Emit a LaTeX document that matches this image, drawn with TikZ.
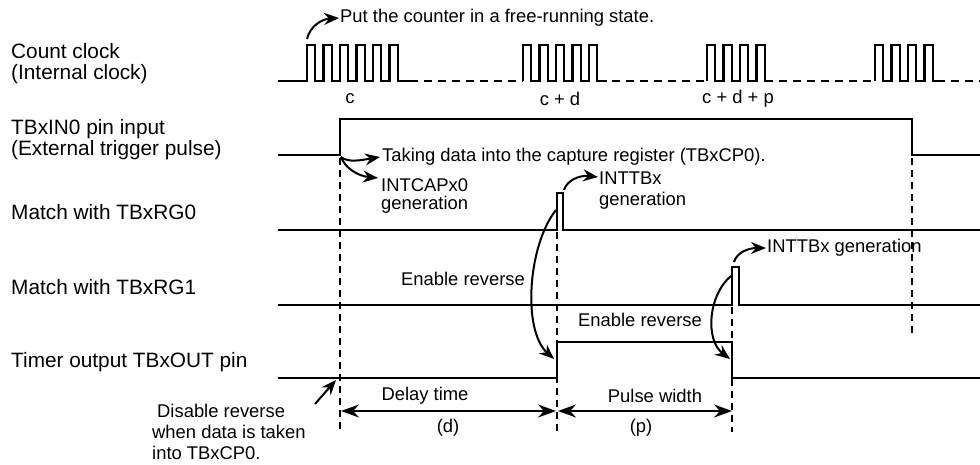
\documentclass[tikz,border=0pt]{standalone}
\usepackage{fontspec}
\setmainfont{Liberation Sans}
\usetikzlibrary{arrows.meta}
\begin{document}
\begin{tikzpicture}[x=1pt,y=-1pt,
  sig/.style={line width=2.6pt, line join=miter},
  clk/.style={line width=2.2pt, line join=miter},
  vdash/.style={line width=2pt, dash pattern=on 7pt off 5pt},
  hdash/.style={line width=2.2pt, dash pattern=on 8pt off 6pt, dash phase=8pt},
  ann/.style={-{Stealth[length=15pt,width=12pt,inset=5pt]}, line width=2pt},
  dim/.style={{Stealth[length=18pt,width=13pt,inset=6pt]}-{Stealth[length=18pt,width=13pt,inset=6pt]}, line width=1.8pt},
  lbl/.style={font=\fontsize{20.8}{21}\selectfont, inner sep=0pt, anchor=west, align=left},
  txt/.style={font=\fontsize{18.4}{19}\selectfont, inner sep=0pt},
]
\useasboundingbox (0,0) rectangle (980,464);

% left labels
\node[lbl] (lclk) at (11,63.5) {Count clock\\(Internal clock)};
\node[lbl] (lin)  at (11,139.5) {TBxIN0 pin input\\(External trigger pulse)};
\node[lbl] (lrg0) at (11,212) {Match with TBxRG0};
\node[lbl] (lrg1) at (11,287) {Match with TBxRG1};
\node[lbl] (lout) at (11,362) {Timer output TBxOUT pin};

% clock
\draw[clk] (278,81) -- (307,81)
  \foreach \i in {1,...,6}{ -- ++(0,-36) -- ++(8.25,0) -- ++(0,36) -- ++(8.25,0)} -- (418,81);
\draw[clk] (523,81)
  \foreach \i in {1,...,5}{ -- ++(0,-36) -- ++(8.25,0) -- ++(0,36) -- ++(8.25,0)} -- (606,81);
\draw[clk] (707,81)
  \foreach \i in {1,...,4}{ -- ++(0,-36) -- ++(8.25,0) -- ++(0,36) -- ++(8.25,0)};
\draw[clk] (875,81)
  \foreach \i in {1,...,4}{ -- ++(0,-36) -- ++(8.25,0) -- ++(0,36) -- ++(8.25,0)} -- (945,81);
\draw[hdash] (418,81) -- (523,81);
\draw[hdash] (606,81) -- (707,81);
\draw[hdash] (773,81) -- (875,81);
\draw[hdash] (945,81) -- (980,81);

\node[txt] (cc)   at (350,99) {c};
\node[txt] (ccd)  at (560,99) {c + d};
\node[txt] (ccdp) at (738,99) {c + d + p};

% signals
\draw[sig] (278,155) -- (340,155) -- (340,119) -- (912,119) -- (912,155) -- (980,155);
\draw[sig] (278,230) -- (557,230) -- (557,193) -- (563,193) -- (563,230) -- (980,230);
\draw[sig] (278,305) -- (732,305) -- (732,267) -- (739,267) -- (739,305) -- (980,305);
\draw[sig] (278,378) -- (557,378) -- (557,342) -- (732,342) -- (732,378) -- (980,378);

% dashed verticals
\draw[vdash] (340,158) -- (340,432);
\draw[vdash] (557,232) -- (557,432);
\draw[vdash] (732,307) -- (732,432);
\draw[vdash] (912,158) -- (912,337);

% annotations
\node[txt, anchor=west] (free) at (340,18) {Put the counter in a free-running state.};
\node[txt, anchor=west] (take) at (382,157) {Taking data into the capture register (TBxCP0).};
\node[txt, anchor=west, align=left, font=\fontsize{18.4}{18.5}\selectfont] (icap) at (381,196) {INTCAPx0\\generation};
\node[txt, anchor=west, align=left, font=\fontsize{18.4}{20.5}\selectfont] (itb0) at (599,190.5) {INTTBx\\generation};
\node[txt, anchor=west] (itb1) at (767,248) {INTTBx generation};
\node[txt] (en1) at (463,279) {Enable reverse};
\node[txt] (en2) at (640,320) {Enable reverse};
\node[txt, anchor=west, align=left, font=\fontsize{18.4}{21}\selectfont] (dis) at (152,432) {\hspace*{5pt}Disable reverse\\when data is taken\\into TBxCP0.};
\node[txt] (dly) at (425,396) {Delay time};
\node[txt] (dd)  at (448,428) {(d)};
\node[txt] (pw)  at (655,396) {Pulse width};
\node[txt] (pp)  at (641,428) {(p)};

\coordinate (fr0) at (307,39);  \coordinate (fr1) at (339,18);
\coordinate (tk0) at (341,157); \coordinate (tk1) at (380,157);
\coordinate (ic1) at (378,178);
\coordinate (r00) at (564,190); \coordinate (r01) at (598,177);
\coordinate (r10) at (734,262); \coordinate (r11) at (766,248);
\coordinate (e10) at (556,210); \coordinate (e11) at (554,359);
\coordinate (e20) at (731,276); \coordinate (e21) at (730,359);
\coordinate (ds0) at (315,404); \coordinate (ds1) at (336,380);
\coordinate (da) at (341,411); \coordinate (db) at (557,411); \coordinate (dc) at (732,411);

\draw[ann] (fr0) .. controls (310,26) and (322,19) .. (fr1);
\draw[ann] (tk0) .. controls (348,163) and (362,160) .. (tk1);
\draw[ann] (tk0) .. controls (345,168) and (358,176) .. (ic1);
\draw[ann] (r00) .. controls (567,180) and (580,175) .. (r01);
\draw[ann] (r10) .. controls (737,252) and (749,248) .. (r11);
\draw[ann] (e10) .. controls (528,245) and (522,330) .. (e11);
\draw[ann] (e20) .. controls (708,295) and (705,340) .. (e21);
\draw[ann] (ds0) -- (ds1);
\draw[dim] (da) -- ([xshift=-1pt]db);
\draw[dim] ([xshift=1pt]db) -- (dc);
\end{tikzpicture}
\end{document}
